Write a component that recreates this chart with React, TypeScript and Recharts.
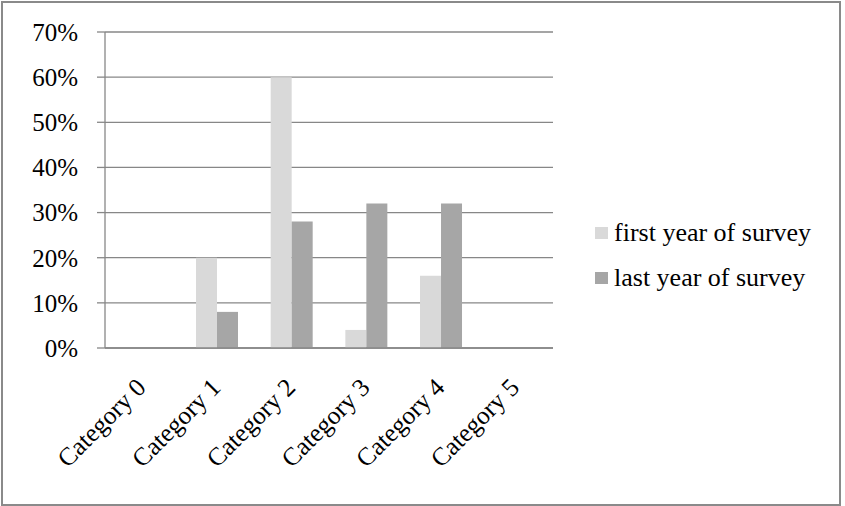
import React from 'react';
import { BarChart, Bar, XAxis, YAxis, CartesianGrid, Legend } from 'recharts';

// survey shares per category, in percent
const categories = ['Category 0', 'Category 1', 'Category 2', 'Category 3', 'Category 4', 'Category 5'];
const firstYear = [0, 20, 60, 4, 16, 0];
const lastYear = [0, 8, 28, 32, 32, 0];
const percentTicks = [0, 10, 20, 30, 40, 50, 60, 70];
const boundaryTicks = [0, 1, 2, 3, 4, 5, 6];

const data = categories.map((name, i) => ({
  name,
  first: firstYear[i],
  last: lastYear[i],
}));

const FONT = '"Liberation Serif", "Times New Roman", serif';
const AXIS_GRAY = '#878787';

// slanted category label, anchored just below the axis
const CategoryTick = ({ x, y, payload }: any) => {
  const ax = x + 5;
  const ay = y + 41;
  return (
    <text
      x={ax}
      y={ay}
      transform={`rotate(-45, ${ax}, ${ay})`}
      textAnchor="end"
      fill="#000"
      fontFamily={FONT}
      fontSize={25.5}
    >
      {payload.value}
    </text>
  );
};

const LegendBox = ({ payload }: any) => (
  <div style={{ fontFamily: FONT, fontSize: 26, color: '#000' }}>
    {(payload || []).map((entry: any) => (
      <div key={entry.value} style={{ display: 'flex', alignItems: 'center', height: 45 }}>
        <span style={{ width: 13, height: 12, backgroundColor: entry.color, marginRight: 6, display: 'inline-block' }} />
        <span style={{ whiteSpace: 'nowrap' }}>{entry.value}</span>
      </div>
    ))}
  </div>
);

export default function App() {
  return (
    <div style={{ position: 'absolute', left: 0, top: 0, width: 845, height: 506, background: '#fff', fontFamily: FONT }}>
      {/* outer frame */}
      <div style={{
        position: 'absolute',
        left: 1,
        top: 1,
        width: 836,
        height: 501,
        border: '2px solid #8a8a8a',
      }} />
      <BarChart
        width={845}
        height={506}
        data={data}
        margin={{ top: 32, right: 292, left: 0, bottom: 0 }}
        barCategoryGap="21.9%"
        barGap={0}
      >
        <CartesianGrid horizontal vertical={false} stroke={AXIS_GRAY} strokeWidth={1.3} />
        {/* tick marks between categories */}
        <XAxis
          xAxisId="marks"
          type="number"
          domain={[0, 6]}
          ticks={boundaryTicks}
          allowDataOverflow
          height={0}
          tick={false}
          axisLine={false}
          tickSize={6}
          tickLine={{ stroke: AXIS_GRAY, strokeWidth: 1.3 }}
        />
        <XAxis
          xAxisId="cat"
          dataKey="name"
          height={158}
          interval={0}
          tickLine={false}
          tickSize={0}
          tickMargin={0}
          axisLine={{ stroke: AXIS_GRAY, strokeWidth: 1.3 }}
          tick={<CategoryTick />}
        />
        <YAxis
          width={105}
          domain={[0, 70]}
          ticks={percentTicks}
          interval={0}
          tickFormatter={(v: number) => `${v}%`}
          tickSize={8}
          tickMargin={19}
          axisLine={{ stroke: AXIS_GRAY, strokeWidth: 1.3 }}
          tickLine={{ stroke: AXIS_GRAY, strokeWidth: 1.3 }}
          tick={{ fill: '#000', fontFamily: FONT, fontSize: 25 }}
        />
        <Legend
          layout="vertical"
          align="center"
          verticalAlign="middle"
          content={<LegendBox />}
          wrapperStyle={{ left: 595, top: 210, width: 240 }}
        />
        <Bar xAxisId="cat" dataKey="first" name="first year of survey" fill="#d9d9d9" isAnimationActive={false} />
        <Bar xAxisId="cat" dataKey="last" name="last year of survey" fill="#a6a6a6" isAnimationActive={false} />
      </BarChart>
    </div>
  );
}
